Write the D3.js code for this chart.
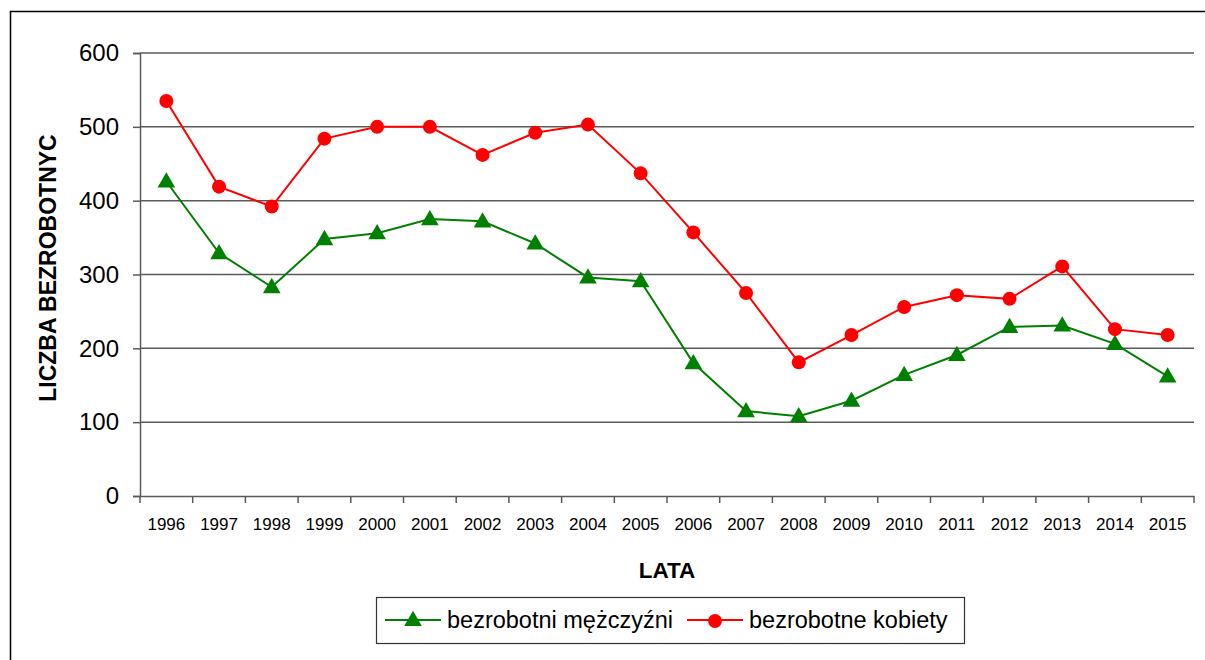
<!DOCTYPE html>
<html>
<head>
<meta charset="utf-8">
<script src="https://cdn.jsdelivr.net/npm/d3@7"></script>
<style>
  body { margin: 0; background: #fff; }
  svg { font-family: Arial, "Liberation Sans", sans-serif; }
</style>
</head>
<body>
<div id="chart"></div>
<script>
var width = 1205;
var height = 660;

var years = ["1996", "1997", "1998", "1999", "2000", "2001", "2002", "2003", "2004", "2005",
	"2006", "2007", "2008", "2009", "2010", "2011", "2012", "2013", "2014", "2015"];
var men = [426, 329, 283, 348, 356, 375, 372, 342, 296, 291, 180, 115, 108, 129, 164, 191, 229, 231, 206, 162];
var women = [535, 419, 392, 484, 500, 500, 462, 492, 503, 437, 357, 275, 181, 218, 256, 272, 267, 311, 226, 218];
var yTicks = [0, 100, 200, 300, 400, 500, 600];
var seriesNames = ["bezrobotni mężczyźni", "bezrobotne kobiety"];

var plot = { left: 140, right: 1194, top: 53, bottom: 496 };

var svg = d3.select("#chart")
	.append("svg")
	.attr("width", width)
	.attr("height", height);

// outer frame (only left and top are inside the picture)
svg.append("path")
	.attr("d", "M10.5," + height + "V11.5H" + width)
	.attr("fill", "none")
	.attr("stroke", "#000")
	.attr("stroke-width", 1.5);

var x = d3.scaleBand()
	.domain(years)
	.range([plot.left, plot.right]);

var y = d3.scaleLinear()
	.domain([0, 600])
	.range([plot.bottom, plot.top]);

// gridlines + y axis
var yAxis = svg.append("g")
	.attr("transform", "translate(" + plot.left + ",0)")
	.call(d3.axisLeft(y).tickValues(yTicks).tickSize(7).tickPadding(14));
yAxis.select(".domain").attr("stroke", "#5a5a5a").attr("stroke-width", 1.5);
yAxis.selectAll(".tick line").attr("stroke", "#5a5a5a").attr("stroke-width", 1.5);
yAxis.selectAll(".tick text")
	.attr("font-size", 24)
	.attr("fill", "#000")
	.attr("font-family", "Arial, 'Liberation Sans', sans-serif");

svg.append("g")
	.selectAll("line")
	.data(yTicks.filter(function(d){ return d > 0; }))
	.enter()
	.append("line")
	.attr("x1", plot.left)
	.attr("x2", plot.right)
	.attr("y1", function(d){ return y(d); })
	.attr("y2", function(d){ return y(d); })
	.attr("stroke", "#5a5a5a")
	.attr("stroke-width", 1.5);

// x axis, ticks between categories
var xAxis = svg.append("g")
	.attr("transform", "translate(0," + plot.bottom + ")")
	.call(d3.axisBottom(x).tickSize(0).tickPadding(22));
xAxis.select(".domain").attr("stroke", "#5a5a5a").attr("stroke-width", 1.5);
xAxis.selectAll(".tick text")
	.attr("font-size", 17)
	.attr("fill", "#000")
	.attr("font-family", "Arial, 'Liberation Sans', sans-serif");

svg.append("g")
	.selectAll("line")
	.data(years.concat(["end"]))
	.enter()
	.append("line")
	.attr("x1", function(d, i){ return plot.left + i * x.step(); })
	.attr("x2", function(d, i){ return plot.left + i * x.step(); })
	.attr("y1", plot.bottom)
	.attr("y2", plot.bottom + 7)
	.attr("stroke", "#5a5a5a")
	.attr("stroke-width", 1.5);

// axis titles
svg.append("text")
	.attr("x", (plot.left + plot.right) / 2)
	.attr("y", 578)
	.attr("text-anchor", "middle")
	.attr("font-size", 22.5)
	.attr("font-weight", "bold")
	.text("LATA");

svg.append("text")
	.attr("transform", "translate(56,268) rotate(-90)")
	.attr("text-anchor", "middle")
	.attr("font-size", 23)
	.attr("font-weight", "bold")
	.text("LICZBA BEZROBOTNYC");

// lines
var line = d3.line()
	.x(function(d, i){ return x(years[i]) + x.bandwidth() / 2; })
	.y(function(d){ return y(d); });

svg.append("path")
	.datum(men)
	.attr("d", line)
	.attr("fill", "none")
	.attr("stroke", "#008000")
	.attr("stroke-width", 2);

svg.append("path")
	.datum(women)
	.attr("d", line)
	.attr("fill", "none")
	.attr("stroke", "#ff0000")
	.attr("stroke-width", 2);

var tri = d3.symbol().type(d3.symbolTriangle).size(135);

svg.append("g")
	.selectAll("path")
	.data(men)
	.enter()
	.append("path")
	.attr("d", tri)
	.attr("transform", function(d, i){
		return "translate(" + (x(years[i]) + x.bandwidth() / 2) + "," + (y(d) + 1) + ")";
	})
	.attr("fill", "#008000");

svg.append("g")
	.selectAll("circle")
	.data(women)
	.enter()
	.append("circle")
	.attr("cx", function(d, i){ return x(years[i]) + x.bandwidth() / 2; })
	.attr("cy", function(d){ return y(d); })
	.attr("r", 7)
	.attr("fill", "#ff0000");

// legend
var legend = svg.append("g");
legend.append("rect")
	.attr("x", 376.5)
	.attr("y", 597.5)
	.attr("width", 588)
	.attr("height", 46)
	.attr("fill", "#fff")
	.attr("stroke", "#333")
	.attr("stroke-width", 1.2);

var items = legend.selectAll("g")
	.data(seriesNames)
	.enter()
	.append("g")
	.attr("transform", function(d, i){ return "translate(" + (i === 0 ? 385 : 687) + ",620)"; });

items.append("line")
	.attr("x1", 0)
	.attr("x2", 56)
	.attr("stroke", function(d, i){ return i === 0 ? "#008000" : "#ff0000"; })
	.attr("stroke-width", 2);

items.append("path")
	.attr("d", function(d, i){
		return i === 0 ? tri() : d3.symbol().type(d3.symbolCircle).size(150)();
	})
	.attr("transform", "translate(28,1)")
	.attr("fill", function(d, i){ return i === 0 ? "#008000" : "#ff0000"; });

items.append("text")
	.attr("x", 62)
	.attr("y", 8)
	.attr("font-size", 23.5)
	.text(function(d){ return d; });
</script>
</body>
</html>
